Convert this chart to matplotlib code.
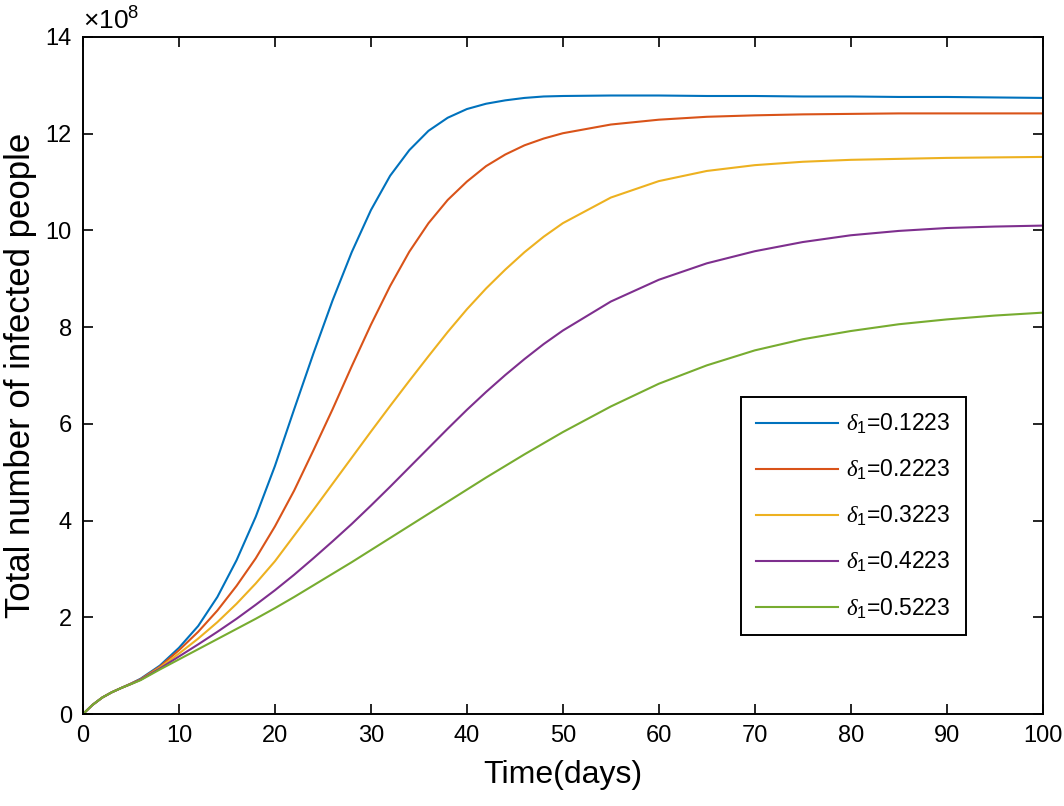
import matplotlib
matplotlib.use('Agg')
import matplotlib.pyplot as plt

# Zeitachse (Tage) und Infizierte (in Einheiten von 1e8)
t = [0, 1, 2, 3, 4, 5, 6, 8, 10, 12, 14, 16, 18, 20, 22, 24, 26, 28, 30, 32,
     34, 36, 38, 40, 42, 44, 46, 48, 50, 55, 60, 65, 70, 75, 80, 85, 90, 95, 100]

inf_1 = [0, 0.19, 0.34, 0.45, 0.54, 0.63, 0.73, 1.00, 1.37, 1.82, 2.42, 3.18, 4.08, 5.13,
         6.30, 7.45, 8.55, 9.55, 10.42, 11.13, 11.66, 12.06, 12.33, 12.51, 12.62, 12.69,
         12.74, 12.77, 12.78, 12.79, 12.79, 12.78, 12.78, 12.77, 12.77, 12.76, 12.76, 12.75, 12.74]
inf_2 = [0, 0.19, 0.34, 0.45, 0.54, 0.63, 0.72, 0.98, 1.32, 1.70, 2.14, 2.65, 3.22, 3.88,
         4.62, 5.45, 6.30, 7.19, 8.05, 8.85, 9.56, 10.15, 10.63, 11.01, 11.33, 11.57,
         11.76, 11.90, 12.01, 12.19, 12.29, 12.35, 12.38, 12.40, 12.41, 12.42, 12.42, 12.42, 12.42]
inf_3 = [0, 0.19, 0.34, 0.45, 0.54, 0.62, 0.71, 0.96, 1.25, 1.56, 1.90, 2.28, 2.70, 3.16,
         3.69, 4.22, 4.76, 5.30, 5.84, 6.37, 6.89, 7.40, 7.90, 8.37, 8.80, 9.19,
         9.55, 9.87, 10.15, 10.68, 11.02, 11.23, 11.35, 11.42, 11.46, 11.48, 11.50, 11.51, 11.52]
inf_4 = [0, 0.19, 0.34, 0.45, 0.54, 0.62, 0.71, 0.94, 1.19, 1.44, 1.70, 1.97, 2.26, 2.56,
         2.88, 3.22, 3.57, 3.93, 4.31, 4.70, 5.10, 5.50, 5.90, 6.29, 6.66, 7.01,
         7.34, 7.65, 7.93, 8.53, 8.98, 9.32, 9.57, 9.76, 9.90, 9.99, 10.05, 10.08, 10.10]
inf_5 = [0, 0.19, 0.34, 0.45, 0.54, 0.62, 0.70, 0.92, 1.13, 1.34, 1.55, 1.76, 1.97, 2.19,
         2.42, 2.66, 2.90, 3.14, 3.39, 3.64, 3.89, 4.14, 4.39, 4.64, 4.89, 5.13,
         5.37, 5.60, 5.83, 6.36, 6.83, 7.21, 7.52, 7.75, 7.92, 8.06, 8.16, 8.24, 8.30]

series = [inf_1, inf_2, inf_3, inf_4, inf_5]
deltas = ['0.1223', '0.2223', '0.3223', '0.4223', '0.5223']
colors = ['#0072BD', '#D95319', '#EDB120', '#7E2F8E', '#77AC30']

plt.rcParams['font.family'] = ['Liberation Sans', 'DejaVu Sans']
plt.rcParams['mathtext.fontset'] = 'custom'
plt.rcParams['mathtext.it'] = 'Liberation Serif:italic'
plt.rcParams['mathtext.rm'] = 'Liberation Sans'

fig = plt.figure(figsize=(10.64, 8.06), dpi=100)
ax = fig.add_axes([0.078, 0.1141, 0.902, 0.84])

for y, d, c in zip(series, deltas, colors):
    ax.plot(t, y, color=c, linewidth=1.5, label=r'$\delta_{1}$=' + d)

ax.set_xlim(0, 100)
ax.set_ylim(0, 14)
ax.set_xticks(range(0, 101, 10))
ax.set_yticks(range(0, 15, 2))
ax.tick_params(direction='in', top=True, right=True, length=7, width=1.2,
               labelsize=17, pad=8)
for sp in ax.spines.values():
    sp.set_linewidth(1.4)

ax.set_xlabel('Time(days)', fontsize=23, labelpad=9)
ax.set_ylabel('Total number of infected people', fontsize=25, labelpad=6)

ax.text(0.0, 1.003, r'$\times\mathregular{10^{8}}$', transform=ax.transAxes,
        fontsize=19, ha='left', va='bottom')

leg = ax.legend(loc='upper left', bbox_to_anchor=(0.6854, 0.4682), borderaxespad=0,
                fontsize=16.5, handlelength=3.6, labelspacing=0.95, borderpad=0.65,
                handletextpad=0.35, fancybox=False, framealpha=1)
leg.get_frame().set_edgecolor('black')
leg.get_frame().set_linewidth(1.4)

plt.savefig('out.png', dpi=100)
